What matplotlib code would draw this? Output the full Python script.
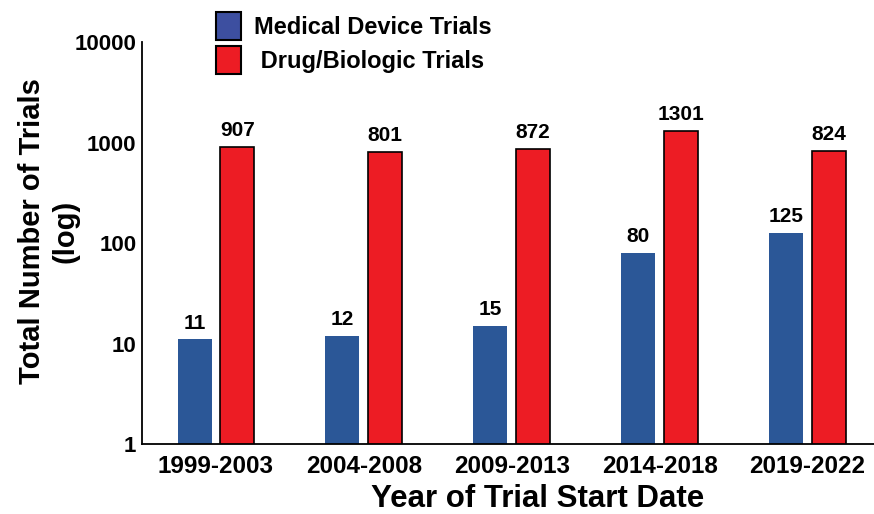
import matplotlib
matplotlib.use('Agg')
import matplotlib.pyplot as plt
from matplotlib.patches import Patch
import numpy as np

plt.rcParams['font.family'] = ['Liberation Sans', 'DejaVu Sans']
plt.rcParams['font.weight'] = 'bold'

# Data
periods = ['1999-2003', '2004-2008', '2009-2013', '2014-2018', '2019-2022']
device_trials = [11, 12, 15, 80, 125]
drug_trials = [907, 801, 872, 1301, 824]

blue = '#2b5797'
red = '#ed1c24'

fig = plt.figure(figsize=(8.74, 5.14), dpi=100)
ax = fig.add_axes([0.1625, 0.136, 0.8375, 0.782])

x = np.arange(len(periods))
width = 0.23
offset = 0.145

b1 = ax.bar(x - offset, device_trials, width, color=blue, edgecolor=blue, linewidth=0)
b2 = ax.bar(x + offset, drug_trials, width, color=red, edgecolor='black', linewidth=1.2)

ax.set_yscale('log')
ax.set_ylim(1, 10000)
ax.set_xlim(-0.5, 4.45)

# value labels above bars
for bars, vals in [(b1, device_trials), (b2, drug_trials)]:
    for rect, v in zip(bars, vals):
        ax.annotate(str(v), xy=(rect.get_x() + rect.get_width() / 2, v),
                    xytext=(0, 5), textcoords='offset points',
                    ha='center', va='bottom', fontsize=15, fontweight='bold')

ax.set_yticks([1, 10, 100, 1000, 10000])
ax.set_yticklabels(['1', '10', '100', '1000', '10000'])
ax.minorticks_off()
ax.set_xticks(x)
ax.set_xticklabels(periods)
ax.tick_params(axis='x', length=0, labelsize=17.5, pad=8)
ax.tick_params(axis='y', length=0, labelsize=16, pad=4)

for s in ['top', 'right']:
    ax.spines[s].set_visible(False)
ax.spines['left'].set_linewidth(1.3)
ax.spines['bottom'].set_linewidth(1.3)

ax.set_ylabel('Total Number of Trials\n(log)', fontsize=21, fontweight='bold',
              linespacing=1.25)
ax.yaxis.set_label_coords(-0.086, 0.53)
ax.set_xlabel('Year of Trial Start Date', fontsize=22.5, fontweight='bold')
ax.xaxis.set_label_coords(0.54, -0.1)

handles = [Patch(facecolor='#3d4fa0', edgecolor='black', linewidth=1.5),
           Patch(facecolor=red, edgecolor='black', linewidth=1.5)]
fig.legend(handles, ['Medical Device Trials', ' Drug/Biologic Trials'],
           loc='upper left', bbox_to_anchor=(0.228, 1.008), frameon=False,
           fontsize=17, handlelength=1.05, handleheight=1.45,
           labelspacing=0.25, handletextpad=0.55, borderpad=0.2)

plt.savefig('out.png', dpi=100)
